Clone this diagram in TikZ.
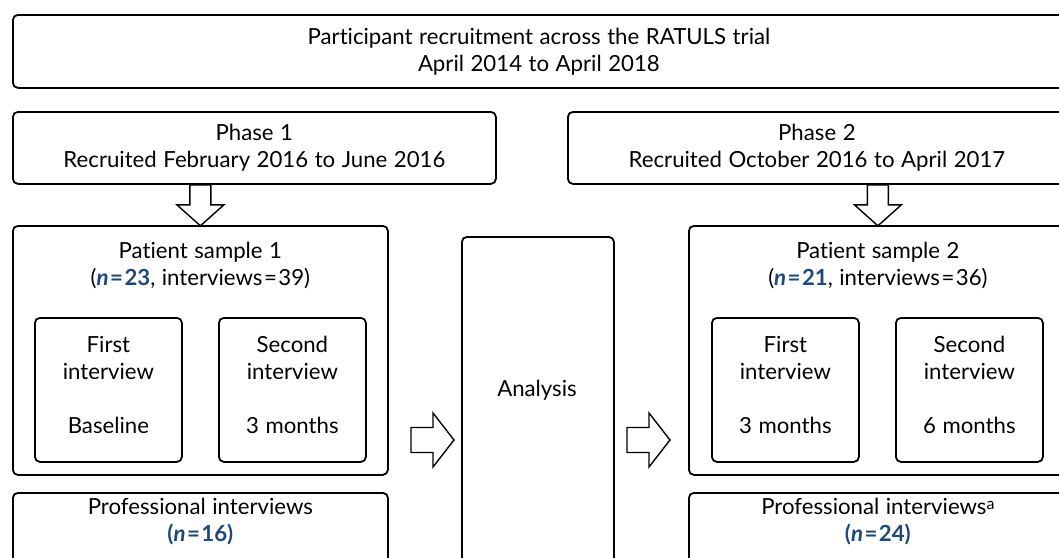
\documentclass[tikz,border=0pt]{standalone}
\usepackage{fontspec}
\setmainfont[Ligatures={NoCommon},WordSpace=1.15]{Lato}
\usetikzlibrary{calc}
\definecolor{nblue}{RGB}{31,73,125}
\newcommand{\nb}[1]{\textcolor{nblue}{\textbf{#1}}}
\newcommand{\eqs}{\kern1.5pt=\kern1.5pt}
\begin{document}
\begin{tikzpicture}[x=1pt,y=-1pt,
  box/.style={draw, line width=1.8pt, rounded corners=5pt, inner sep=0pt, anchor=north west},
  txt/.style={font=\fontsize{22.2}{27}\selectfont, align=center, inner sep=0pt},
  blk/.style={draw, line width=1.4pt, fill=white, line join=miter}]
\useasboundingbox (0,0) rectangle (1059,557);
\clip (0,0) rectangle (1059,557);
% boxes
\node[box, minimum width=1052, minimum height=73] (top) at (12,14) {};
\node[box, minimum width=483, minimum height=72] (p1) at (12,111) {};
\node[box, minimum width=498, minimum height=72] (p2) at (567,111) {};
\node[box, minimum width=375, minimum height=249] (ps1) at (12,225) {};
\node[box, minimum width=378, minimum height=249] (ps2) at (688,225) {};
\node[box, minimum width=147, minimum height=144] (f1) at (34,317) {};
\node[box, minimum width=147, minimum height=144] (s1) at (218,317) {};
\node[box, minimum width=147, minimum height=144] (f2) at (711,317) {};
\node[box, minimum width=147, minimum height=144] (s2) at (895,317) {};
\node[box, minimum width=152, minimum height=340] (an) at (461,236) {};
\node[box, minimum width=375, minimum height=80] (pr1) at (12,492) {};
\node[box, minimum width=378, minimum height=80] (pr2) at (688,492) {};
% texts
\node[txt] (topt) at (top.center) {Participant recruitment across the RATULS trial\\April 2014 to April 2018};
\node[txt] (p1t) at (p1.center) {Phase 1\\Recruited February 2016 to June 2016};
\node[txt] (p2t) at (p2.center) {Phase 2\\Recruited October 2016 to April 2017};
\node[txt] (ps1t) at ($(ps1.north)+(0,40)$) {Patient sample 1\\(\nb{\textit{n}\eqs23}, interviews\eqs39)};
\node[txt] (ps2t) at ($(ps2.north)+(0,40)$) {Patient sample 2\\(\nb{\textit{n}\eqs21}, interviews\eqs36)};
\node[txt] (f1t) at ($(f1.center)+(0,-5)$) {First\\interview\\[27pt]Baseline};
\node[txt] (s1t) at ($(s1.center)+(0,-5)$) {Second\\interview\\[27pt]3 months};
\node[txt] (f2t) at ($(f2.center)+(0,-5)$) {First\\interview\\[27pt]3 months};
\node[txt] (s2t) at ($(s2.center)+(0,-5)$) {Second\\interview\\[27pt]6 months};
\node[txt] (ant) at (537,390) {Analysis};
\node[txt] (pr1t) at ($(pr1.north)+(0,30)$) {Professional interviews\\\nb{(\textit{n}\eqs16)}};
\node[txt] (pr2t) at ($(pr2.north)+(0,30)$) {Professional interviews\raisebox{5pt}{\fontsize{16}{16}\selectfont a}\\\nb{(\textit{n}\eqs24)}};
% block arrows
\draw[blk] ($(ps1.north |- p1.south)+(-10.5,0)$) -- ++(0,20) -- ++(-13,0) -- ++(23.5,21) -- ++(23.5,-21) -- ++(-13,0) -- ++(0,-20) -- cycle;
\draw[blk] ($(ps2.north |- p2.south)+(-10.5,0)$) -- ++(0,20) -- ++(-13,0) -- ++(23.5,21) -- ++(23.5,-21) -- ++(-13,0) -- ++(0,-20) -- cycle;
\coordinate (r1) at (411,440);
\coordinate (r2) at (627,440);
\draw[blk] ($(r1)+(0,-12.5)$) -- ++(22,0) -- ++(0,-14.5) -- ++(21,27) -- ++(-21,27) -- ++(0,-14.5) -- ++(-22,0) -- cycle;
\draw[blk] ($(r2)+(0,-12.5)$) -- ++(22,0) -- ++(0,-14.5) -- ++(21,27) -- ++(-21,27) -- ++(0,-14.5) -- ++(-22,0) -- cycle;
\end{tikzpicture}
\end{document}
